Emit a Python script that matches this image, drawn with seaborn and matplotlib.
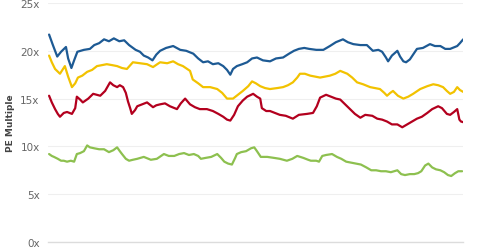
import matplotlib
matplotlib.use("Agg")
import matplotlib.pyplot as plt
import seaborn as sns
import pandas as pd

# time in years from start of series
blue_t = [0.02,0.09,0.17,0.24,0.33,0.37,0.43,0.48,0.54,0.66,
          0.77,0.85,0.94,1.03,1.12,1.21,1.31,1.40,1.49,1.61,
          1.69,1.76,1.84,1.92,1.99,2.06,2.17,2.30,2.43,2.54,
          2.67,2.76,2.85,2.94,3.03,3.13,3.22,3.29,3.35,3.40,
          3.47,3.57,3.66,3.75,3.84,3.95,4.08,4.19,4.32,4.43,
          4.52,4.61,4.71,4.80,4.93,5.06,5.18,5.29,5.42,5.51,
          5.61,5.74,5.86,5.97,6.07,6.14,6.21,6.25,6.32,6.42,
          6.47,6.53,6.58,6.65,6.78,6.89,7.02,7.11,7.21,7.30,
          7.39,7.52,7.57,7.63]
blue_v = [21.7,20.6,19.4,19.9,20.4,19.2,18.2,19.0,19.9,20.1,
          20.2,20.6,20.8,21.2,21.0,21.3,21.0,21.1,20.6,20.1,
          19.9,19.5,19.3,19.0,19.6,20.0,20.3,20.5,20.1,20.0,
          19.7,19.2,18.8,18.9,18.6,18.7,18.4,18.0,17.5,18.1,
          18.4,18.6,18.8,19.2,19.3,19.0,18.9,19.2,19.3,19.7,
          20.0,20.2,20.3,20.2,20.1,20.1,20.5,20.9,21.2,20.9,
          20.7,20.6,20.6,20.0,20.1,19.9,19.3,18.9,19.5,20.0,
          19.4,18.9,18.8,19.1,20.2,20.3,20.7,20.5,20.5,20.2,
          20.2,20.5,20.8,21.2]

yellow_t = [0.02,0.07,0.13,0.22,0.31,0.37,0.44,0.50,0.55,0.63,
            0.72,0.81,0.90,0.99,1.08,1.18,1.27,1.36,1.45,1.56,
            1.69,1.82,1.93,2.06,2.19,2.30,2.39,2.48,2.61,2.66,
            2.76,2.85,2.98,3.11,3.20,3.29,3.40,3.49,3.58,3.68,
            3.75,3.82,3.90,3.99,4.08,4.21,4.32,4.41,4.50,4.58,
            4.63,4.72,4.82,4.91,5.00,5.18,5.28,5.37,5.50,5.59,
            5.68,5.79,5.92,6.01,6.10,6.18,6.23,6.29,6.34,6.43,
            6.53,6.62,6.71,6.84,6.97,7.08,7.17,7.26,7.33,7.39,
            7.46,7.52,7.57,7.63]
yellow_v = [19.5,18.8,18.1,17.6,18.4,17.3,16.2,16.6,17.2,17.4,
            17.8,18.0,18.4,18.5,18.6,18.5,18.4,18.2,18.1,18.8,
            18.7,18.6,18.3,18.8,18.7,18.9,18.6,18.4,17.9,17.0,
            16.6,16.2,16.2,16.0,15.6,15.0,15.0,15.4,15.8,16.3,
            16.8,16.6,16.3,16.1,16.0,16.1,16.2,16.4,16.7,17.2,
            17.6,17.6,17.4,17.3,17.2,17.4,17.6,17.9,17.6,17.2,
            16.7,16.5,16.2,16.1,16.0,15.6,15.3,15.6,15.8,15.3,
            15.0,15.2,15.5,16.0,16.3,16.5,16.4,16.2,15.8,15.5,
            15.7,16.2,15.9,15.7]

red_t = [0.02,0.07,0.13,0.18,0.22,0.29,0.35,0.44,0.50,0.53,
         0.59,0.64,0.74,0.83,0.96,1.05,1.14,1.20,1.27,1.32,
         1.38,1.43,1.47,1.51,1.54,1.60,1.64,1.73,1.82,1.93,
         1.99,2.06,2.15,2.24,2.37,2.44,2.52,2.61,2.70,2.79,
         2.92,3.03,3.13,3.22,3.29,3.35,3.42,3.49,3.58,3.66,
         3.77,3.84,3.90,3.93,4.01,4.08,4.17,4.26,4.37,4.50,
         4.61,4.76,4.87,4.94,5.00,5.11,5.20,5.29,5.37,5.46,
         5.55,5.64,5.74,5.83,5.96,6.05,6.14,6.23,6.32,6.42,
         6.51,6.60,6.69,6.78,6.87,6.97,7.06,7.17,7.24,7.33,
         7.39,7.46,7.52,7.56,7.59,7.65]
red_v = [15.3,14.6,13.9,13.4,13.1,13.5,13.6,13.4,14.0,15.2,
         14.9,14.6,15.0,15.5,15.3,15.8,16.7,16.4,16.2,16.4,
         16.2,15.6,14.7,14.0,13.4,13.8,14.2,14.4,14.6,14.1,
         14.3,14.4,14.5,14.2,13.9,14.5,15.0,14.4,14.1,13.9,
         13.9,13.7,13.4,13.1,12.8,12.7,13.3,14.2,14.8,15.2,
         15.5,15.2,15.0,14.0,13.7,13.7,13.5,13.3,13.2,12.9,
         13.3,13.4,13.5,14.2,15.1,15.4,15.2,15.0,14.9,14.4,
         13.9,13.4,13.0,13.3,13.2,12.9,12.8,12.6,12.3,12.3,
         12.0,12.3,12.6,12.9,13.1,13.5,13.9,14.2,14.0,13.4,
         13.3,13.6,13.9,12.8,12.6,12.5]

green_t = [0.02,0.07,0.11,0.18,0.24,0.29,0.35,0.42,0.48,0.53,
           0.59,0.66,0.72,0.77,0.85,0.94,1.03,1.12,1.20,1.27,
           1.32,1.36,1.43,1.49,1.56,1.64,1.76,1.89,2.00,2.13,
           2.22,2.32,2.41,2.50,2.59,2.68,2.76,2.81,2.90,3.00,
           3.11,3.18,3.24,3.31,3.38,3.44,3.47,3.55,3.64,3.73,
           3.79,3.84,3.91,4.03,4.15,4.26,4.39,4.49,4.58,4.69,
           4.78,4.83,4.93,4.98,5.04,5.11,5.22,5.31,5.39,5.48,
           5.57,5.66,5.75,5.85,5.94,6.03,6.12,6.21,6.30,6.42,
           6.49,6.56,6.65,6.73,6.80,6.86,6.93,6.99,7.06,7.13,
           7.21,7.28,7.35,7.41,7.48,7.54,7.61]
green_v = [9.2,9.0,8.9,8.7,8.5,8.5,8.4,8.5,8.4,9.2,
           9.3,9.5,10.1,9.9,9.8,9.7,9.7,9.4,9.6,9.9,
           9.5,9.2,8.7,8.5,8.6,8.7,8.9,8.6,8.7,9.2,
           9.0,9.0,9.2,9.3,9.1,9.2,9.0,8.7,8.8,8.9,
           9.2,8.8,8.4,8.2,8.1,8.8,9.2,9.4,9.5,9.8,
           9.9,9.5,8.9,8.9,8.8,8.7,8.5,8.7,9.0,8.8,
           8.6,8.5,8.5,8.4,9.0,9.1,9.2,8.9,8.7,8.4,
           8.3,8.2,8.1,7.8,7.5,7.5,7.4,7.4,7.3,7.5,
           7.1,7.0,7.1,7.1,7.2,7.4,8.0,8.2,7.8,7.6,
           7.5,7.3,7.0,6.9,7.2,7.4,7.4]

series_names = ["Blue", "Yellow", "Red", "Green"]
series_colors = ["#1d5a94", "#f2c200", "#b3001e", "#8dc04f"]
y_ticks = [0, 5, 10, 15, 20, 25]
y_tick_labels = ["0x", "5x", "10x", "15x", "20x", "25x"]
x_ticks = [0, 1, 2, 3, 4, 5, 6, 7]

frames = []
for name, t, v in zip(series_names,
                      [blue_t, yellow_t, red_t, green_t],
                      [blue_v, yellow_v, red_v, green_v]):
    frames.append(pd.DataFrame({"t": t, "pe": v, "series": name}))
df = pd.concat(frames, ignore_index=True)

sns.set_style("white")
plt.rcParams["font.family"] = ["DejaVu Sans"]

fig = plt.figure(figsize=(4.8, 2.51), dpi=100)
ax = fig.add_axes([0.10, 0.032, 0.865, 0.952])

sns.lineplot(data=df, x="t", y="pe", hue="series", hue_order=series_names,
             palette=series_colors, linewidth=1.6, legend=False, ax=ax,
             estimator=None, sort=False)

ax.set_xlim(0, 7.63)
ax.set_ylim(0, 25)
ax.set_yticks(y_ticks)
ax.set_yticklabels(y_tick_labels)
ax.set_xticks(x_ticks)
ax.set_xticklabels([])
ax.yaxis.grid(True, color="#efefef", linewidth=0.8)
ax.xaxis.grid(False)
ax.set_axisbelow(True)
for s in ["top", "right", "left"]:
    ax.spines[s].set_visible(False)
ax.spines["bottom"].set_color("#dcdcdc")
ax.spines["bottom"].set_linewidth(1.0)
ax.tick_params(axis="x", length=3, color="#dcdcdc", width=1, direction="out")
ax.tick_params(axis="y", length=0, labelsize=7.5, labelcolor="#666666", pad=6)
ax.set_xlabel("")
ax.set_ylabel("PE Multiple", fontsize=6.5, fontweight="bold", color="#444444",
              labelpad=4)

fig.savefig("out.png", dpi=100)
